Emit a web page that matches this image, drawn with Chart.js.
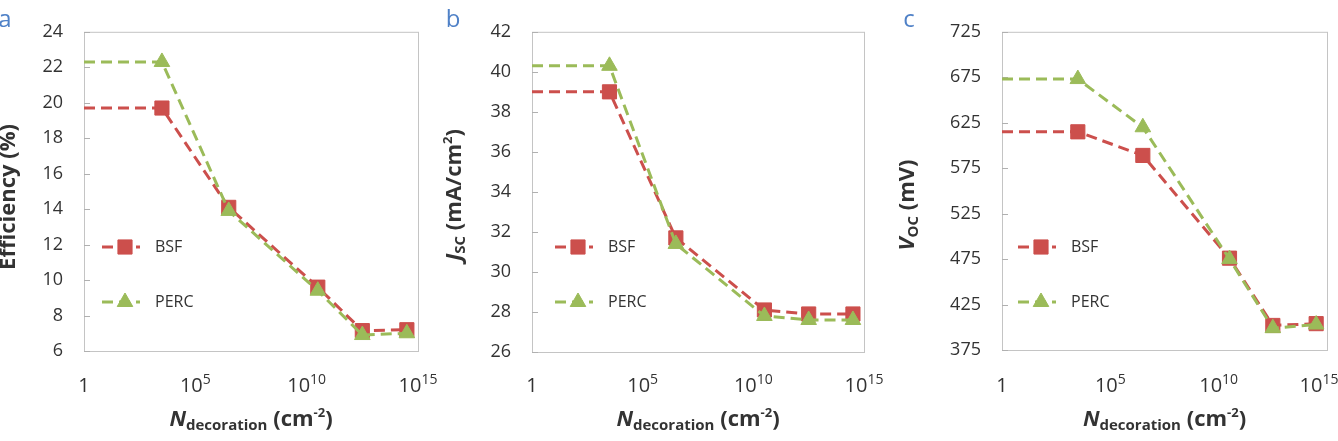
<!DOCTYPE html>
<html>
<head>
<meta charset="utf-8">
<script src="https://cdn.jsdelivr.net/npm/chart.js@4.4.0/dist/chart.umd.min.js"></script>
<style>
  body { margin: 0; background: #fff; width: 1338px; height: 441px; overflow: hidden; position: relative; }
  .panel { position: absolute; top: 0; height: 441px; }
</style>
</head>
<body>
<div class="panel" style="left:0;width:440px"><canvas id="chartA"></canvas></div>
<div class="panel" style="left:440px;width:450px"><canvas id="chartB"></canvas></div>
<div class="panel" style="left:890px;width:448px"><canvas id="chartC"></canvas></div>
<script>
// N_decoration (cm^-2) positions of the points; the first one only carries the flat line to the axis
const xDecoration = [1, 10 ** 3.5, 10 ** 6.5, 10 ** 10.5, 10 ** 12.5, 10 ** 14.5];
const xTicks = [1, 1e5, 1e10, 1e15];

const effBSF = [19.7, 19.7, 14.1, 9.6, 7.15, 7.2];
const effPERC = [22.3, 22.3, 13.9, 9.4, 6.9, 7.0];
const effTicks = [6, 8, 10, 12, 14, 16, 18, 20, 22, 24];

const jscBSF = [39.0, 39.0, 31.7, 28.1, 27.9, 27.9];
const jscPERC = [40.3, 40.3, 31.4, 27.8, 27.6, 27.6];
const jscTicks = [26, 28, 30, 32, 34, 36, 38, 40, 42];

const vocBSF = [615, 615, 589, 476, 402, 404];
const vocPERC = [673, 673, 620, 475, 399, 403];
const vocTicks = [375, 425, 475, 525, 575, 625, 675, 725];

const FONT = '"Open Sans", sans-serif';
const RED = '#cc4f4c';
const GREEN = '#9bbb59';
const TXT = '#333333';
const markerR = [0, 1, 1, 1, 1, 1];

function richText(ctx, parts, x, y) {
  let w = 0;
  parts.forEach(p => { ctx.font = p[1]; w += ctx.measureText(p[0]).width; });
  let cx = x - w / 2;
  ctx.textAlign = 'left';
  ctx.textBaseline = 'alphabetic';
  parts.forEach(p => {
    ctx.font = p[1];
    ctx.fillText(p[0], cx, y + (p[2] || 0));
    cx += ctx.measureText(p[0]).width;
  });
}

function tickParts(v) {
  if (v === 1) return [['1', '20px ' + FONT]];
  return [['10', '20px ' + FONT], [String(Math.round(Math.log10(v))), '14px ' + FONT, -8]];
}

const xTitle = [
  ['N', 'italic bold 22px ' + FONT],
  ['decoration', 'bold 15px ' + FONT, 4],
  [' (cm', 'bold 22px ' + FONT],
  ['-2', 'bold 13px ' + FONT, -9],
  [')', 'bold 22px ' + FONT]
];

const decorPlugin = {
  id: 'decor',
  beforeDatasetsDraw(chart, args, o) {
    const { ctx, chartArea: a } = chart;
    const ys = chart.scales.y;
    ctx.save();
    ctx.strokeStyle = '#c4c4c4';
    ctx.lineWidth = 1;
    ctx.strokeRect(a.left + 0.5, a.top + 0.5, a.right - a.left, a.bottom - a.top);
    ctx.strokeStyle = '#b0b0b0';
    ys.ticks.forEach(t => {
      const py = Math.round(ys.getPixelForValue(t.value)) + 0.5;
      ctx.beginPath();
      ctx.moveTo(a.left, py);
      ctx.lineTo(a.left + 6, py);
      ctx.stroke();
    });
    ctx.restore();
  },
  afterDraw(chart, args, o) {
    const { ctx, chartArea: a } = chart;
    const xs = chart.scales.x;
    ctx.save();
    ctx.fillStyle = TXT;
    xTicks.forEach(v => richText(ctx, tickParts(v), Math.min(xs.getPixelForValue(v), chart.width - 19), 392));
    richText(ctx, xTitle, (a.left + a.right) / 2, 426);

    ctx.save();
    ctx.translate(o.yTitleX, o.yTitleY);
    ctx.rotate(-Math.PI / 2);
    richText(ctx, o.yTitle, 0, 8);
    ctx.restore();

    // legend
    const rows = [
      { label: 'BSF', color: RED, style: 'rect', r: 10, y: 247 },
      { label: 'PERC', color: GREEN, style: 'triangle', r: 9, y: 302 }
    ];
    rows.forEach(row => {
      ctx.strokeStyle = row.color;
      ctx.lineWidth = 3;
      ctx.setLineDash([11, 6]);
      ctx.beginPath();
      ctx.moveTo(o.legendX, row.y);
      ctx.lineTo(o.legendX + 38, row.y);
      ctx.stroke();
      ctx.setLineDash([]);
      ctx.fillStyle = row.color;
      ctx.lineWidth = 1;
      Chart.helpers.drawPoint(ctx, { pointStyle: row.style, radius: row.r, borderWidth: 1, rotation: 0 }, o.legendX + 23, row.y);
      ctx.fillStyle = TXT;
      ctx.font = '16px ' + FONT;
      ctx.textAlign = 'left';
      ctx.textBaseline = 'middle';
      ctx.fillText(row.label, o.legendX + 53, row.y);
    });

    ctx.fillStyle = '#4f81c7';
    ctx.font = '24px ' + FONT;
    ctx.textAlign = 'center';
    ctx.textBaseline = 'alphabetic';
    ctx.fillText(o.letter, o.letterX, 27);
    ctx.restore();
  }
};

function makeChart(id, cfg) {
  const ds = (label, values, color, style, r) => ({
    label,
    data: values.map((v, i) => ({ x: xDecoration[i], y: v })),
    borderColor: color,
    backgroundColor: color,
    borderWidth: 3,
    borderDash: [11, 6],
    pointStyle: style,
    pointRadius: markerR.map(m => m * r),
    pointBorderWidth: 1,
    pointBorderColor: color,
    pointBackgroundColor: color,
    tension: 0
  });
  return new Chart(document.getElementById(id), {
    type: 'line',
    data: {
      datasets: [
        ds('PERC', cfg.perc, GREEN, 'triangle', 9),
        ds('BSF', cfg.bsf, RED, 'rect', 10)
      ]
    },
    options: {
      responsive: true,
      maintainAspectRatio: false,
      animation: false,
      layout: { autoPadding: false, padding: { top: 17, right: cfg.padRight, left: 0, bottom: 0 } },
      plugins: {
        legend: { display: false },
        tooltip: { enabled: false },
        decor: cfg.decor
      },
      scales: {
        x: {
          type: 'logarithmic',
          min: 1,
          max: 1e15,
          grid: { display: false, drawTicks: false },
          border: { display: false },
          ticks: { display: false },
          afterFit(s) { s.height = cfg.xHeight; }
        },
        y: {
          min: cfg.ticks[0],
          max: cfg.ticks[cfg.ticks.length - 1],
          afterBuildTicks(s) { s.ticks = cfg.ticks.map(v => ({ value: v })); },
          grid: { display: false, drawTicks: false },
          border: { display: false },
          ticks: { color: TXT, font: { family: FONT, size: 18 }, padding: 21 },
          afterFit(s) { s.width = cfg.yWidth; }
        }
      }
    },
    plugins: [decorPlugin]
  });
}

makeChart('chartA', {
  bsf: effBSF, perc: effPERC, ticks: effTicks, yWidth: 84, padRight: 22, xHeight: 90,
  decor: {
    letter: 'a', letterX: 5,
    yTitle: [['Efficiency (%)', 'bold 22px ' + FONT]], yTitleX: 7, yTitleY: 197,
    legendX: 102
  }
});

makeChart('chartB', {
  bsf: jscBSF, perc: jscPERC, ticks: jscTicks, yWidth: 92, padRight: 26, xHeight: 89,
  decor: {
    letter: 'b', letterX: 13,
    yTitle: [
      ['J', 'italic bold 22px ' + FONT],
      ['SC', 'bold 15px ' + FONT, 4],
      [' (mA/cm', 'bold 22px ' + FONT],
      ['2', 'bold 13px ' + FONT, -9],
      [')', 'bold 22px ' + FONT]
    ],
    yTitleX: 13, yTitleY: 195,
    legendX: 115
  }
});

makeChart('chartC', {
  bsf: vocBSF, perc: vocPERC, ticks: vocTicks, yWidth: 112, padRight: 11, xHeight: 91,
  decor: {
    letter: 'c', letterX: 19,
    yTitle: [
      ['V', 'italic bold 22px ' + FONT],
      ['OC', 'bold 15px ' + FONT, 4],
      [' (mV)', 'bold 22px ' + FONT]
    ],
    yTitleX: 16, yTitleY: 205,
    legendX: 128
  }
});
</script>
</body>
</html>
